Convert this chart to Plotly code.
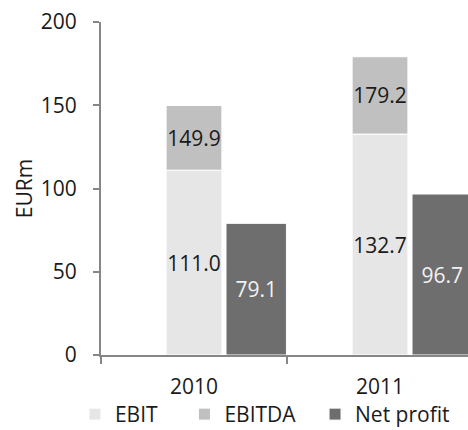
import plotly.graph_objects as go

years = ["2010", "2011"]
ebit = [111.0, 132.7]
ebitda = [149.9, 179.2]
net_profit = [79.1, 96.7]
series_names = ["EBIT", "EBITDA", "Net profit"]
y_ticks = [0, 50, 100, 150, 200]

FONT = "Open Sans"
SIZE = 21
TEXT = "#1a1a1a"
AXIS = "#868686"
# non-breaking spaces widen the legend entries a bit
PADS = ["\u00a0" * 4, "\u00a0" * 2 + "\u2009", ""]

fig = go.Figure()

# EBIT bar (base segment)
fig.add_trace(go.Bar(
    x=years, y=ebit, name=series_names[0] + PADS[0],
    text=[f"{v:.1f}" for v in ebit],
    textposition="inside", insidetextanchor="middle", textangle=0,
    constraintext="none",
    textfont=dict(color=TEXT, size=SIZE, family=FONT),
    marker=dict(color="#e6e6e6", line=dict(color="white", width=1)),
    width=0.3, offset=-0.15,
))

# EBITDA drawn as the part above EBIT
fig.add_trace(go.Bar(
    x=years, y=[b - a for a, b in zip(ebit, ebitda)], base=ebit,
    name=series_names[1] + PADS[1],
    text=[f"{v:.1f}" for v in ebitda],
    textposition="inside", insidetextanchor="middle", textangle=0,
    constraintext="none",
    textfont=dict(color=TEXT, size=SIZE, family=FONT),
    marker=dict(color="#c0c0c0", line=dict(color="white", width=1)),
    width=0.3, offset=-0.15,
))

fig.add_trace(go.Bar(
    x=years, y=net_profit, name=series_names[2] + PADS[2],
    text=[f"{v:.1f}" for v in net_profit],
    textposition="inside", insidetextanchor="middle", textangle=0,
    constraintext="none",
    textfont=dict(color="#f2f2f2", size=SIZE, family=FONT),
    marker=dict(color="#6e6e6e", line=dict(color="white", width=1)),
    width=0.325, offset=0.172,
))

fig.update_layout(
    width=468, height=430,
    margin=dict(l=101, r=0, t=22, b=75, autoexpand=False),
    plot_bgcolor="white", paper_bgcolor="white",
    font=dict(family=FONT, size=SIZE, color=TEXT),
    barmode="overlay",
    legend=dict(
        orientation="h", x=-0.071, xanchor="left", y=-0.117, yanchor="top",
        font=dict(size=SIZE, color=TEXT), itemwidth=30, traceorder="normal",
    ),
)
fig.update_xaxes(
    range=[-0.5, 1.473], showline=True, linecolor=AXIS, linewidth=2,
    ticks="outside", tickson="boundaries", ticklen=7, tickcolor=AXIS, tickwidth=2,
    showgrid=False, tickfont=dict(size=SIZE, color=TEXT), automargin=False,
    ticklabelstandoff=12,
)
fig.update_yaxes(
    range=[0, 200.05], tickmode="array", tickvals=y_ticks,
    showline=True, linecolor=AXIS, linewidth=2,
    ticks="outside", ticklen=6, tickcolor=AXIS, tickwidth=2,
    showgrid=False, zeroline=False, ticklabelstandoff=12, automargin=False,
    title=dict(text="EURm", font=dict(size=SIZE, color=TEXT), standoff=2),
    tickfont=dict(size=SIZE, color=TEXT),
)

# drop the default page margin so the figure sits at the window's corner
fig.write_html(
    "out.html",
    config={"displayModeBar": False},
    post_script="document.body.style.margin='0';",
)
